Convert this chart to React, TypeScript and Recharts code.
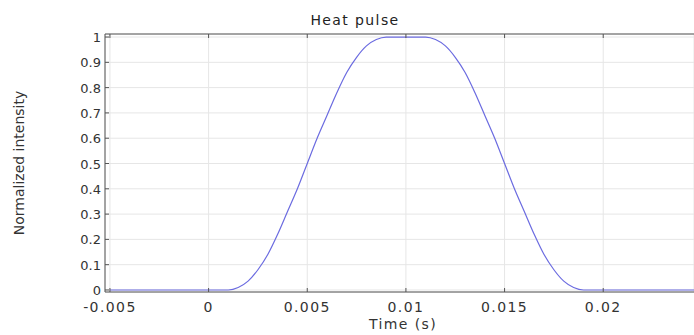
import React from 'react';
import { LineChart, Line, XAxis, YAxis, CartesianGrid } from 'recharts';

const times = [
  -0.005, -0.004, -0.003, -0.002, -0.001, 0, 0.0005, 0.001, 0.0015, 0.002, 0.0025, 0.003, 0.0035,
  0.004, 0.0045, 0.005, 0.0055, 0.006, 0.0065, 0.007, 0.0075, 0.008, 0.0085, 0.009, 0.0095,
  0.01, 0.0105, 0.011, 0.0115, 0.012, 0.0125, 0.013, 0.0135, 0.014, 0.0145, 0.015, 0.0155,
  0.016, 0.0165, 0.017, 0.0175, 0.018, 0.0185, 0.019, 0.0195, 0.02, 0.021, 0.022, 0.023, 0.024, 0.025,
];
const intensity = [
  0, 0, 0, 0, 0, 0, 0, 0, 0.01, 0.035, 0.08, 0.14, 0.22,
  0.31, 0.4, 0.5, 0.6, 0.69, 0.78, 0.86, 0.92, 0.965, 0.99, 1, 1,
  1, 1, 1, 0.99, 0.965, 0.92, 0.86, 0.78, 0.69, 0.6, 0.5, 0.4,
  0.31, 0.22, 0.14, 0.08, 0.035, 0.01, 0, 0, 0, 0, 0, 0, 0, 0,
];
const xTicks = [-0.005, 0, 0.005, 0.01, 0.015, 0.02];
const yTicks = [0, 0.1, 0.2, 0.3, 0.4, 0.5, 0.6, 0.7, 0.8, 0.9, 1];

const data = times.map((t, i) => ({ t, v: intensity[i] }));

const PLOT_TOP = 34;
const PLOT_BOTTOM = 292;
const PLOT_LEFT = 105;
const AXIS = '#555';
const FONT = '"DejaVu Sans", sans-serif';

// COMSOL style: ticks point into the plot, top and bottom
const BottomTick = ({ x, payload }: any) => (
  <g>
    <line x1={x} x2={x} y1={PLOT_BOTTOM} y2={PLOT_BOTTOM - 4} stroke={AXIS} />
    <line x1={x} x2={x} y1={PLOT_TOP} y2={PLOT_TOP + 4} stroke={AXIS} />
    <text x={x} y={PLOT_BOTTOM + 20} textAnchor="middle" fontSize={14} letterSpacing={1.4} fill="#333" fontFamily={FONT}>
      {payload.value}
    </text>
  </g>
);

const LeftTick = ({ y, payload }: any) => (
  <g>
    <line x1={PLOT_LEFT} x2={PLOT_LEFT + 4} y1={y} y2={y} stroke={AXIS} />
    <text x={PLOT_LEFT - 4} y={y + 5} textAnchor="end" fontSize={13} fill="#333" fontFamily={FONT}>
      {payload.value}
    </text>
  </g>
);

export default function App() {
  return (
    <div style={{ position: 'fixed', left: 0, top: 0, width: 694, height: 335, background: '#fff', fontFamily: FONT }}>
      <LineChart
        width={694}
        height={335}
        data={data}
        margin={{ top: PLOT_TOP, right: 0, left: PLOT_LEFT - 60, bottom: 335 - PLOT_BOTTOM - 30 }}
      >
        <CartesianGrid stroke="#e6e6e6" />
        <XAxis
          dataKey="t"
          type="number"
          domain={[-0.00525, 0.0246]}
          ticks={xTicks}
          allowDataOverflow
          height={30}
          stroke={AXIS}
          tickLine={false}
          tick={<BottomTick />}
        />
        <YAxis
          type="number"
          domain={[-0.008, 1.012]}
          ticks={yTicks}
          allowDataOverflow
          width={60}
          stroke={AXIS}
          tickLine={false}
          tick={<LeftTick />}
        />
        <Line
          type="monotone"
          dataKey="v"
          stroke="#6b6be0"
          strokeWidth={1.2}
          dot={false}
          isAnimationActive={false}
        />
      </LineChart>
      <svg width={694} height={335} style={{ position: 'absolute', left: 0, top: 0, pointerEvents: 'none' }}>
        <line x1={PLOT_LEFT} x2={694} y1={PLOT_TOP} y2={PLOT_TOP} stroke={AXIS} />
        <text x={355} y={25} textAnchor="middle" fontSize={14} letterSpacing={1.4} fill="#222" fontFamily={FONT}>Heat pulse</text>
        <text x={403} y={329} textAnchor="middle" fontSize={14} letterSpacing={1.4} fill="#333" fontFamily={FONT}>Time (s)</text>
        <text
          x={24}
          y={163}
          textAnchor="middle"
          fontSize={14}
          fill="#333"
          fontFamily={FONT}
          transform="rotate(-90 24 163)"
        >
          Normalized intensity
        </text>
      </svg>
    </div>
  );
}
